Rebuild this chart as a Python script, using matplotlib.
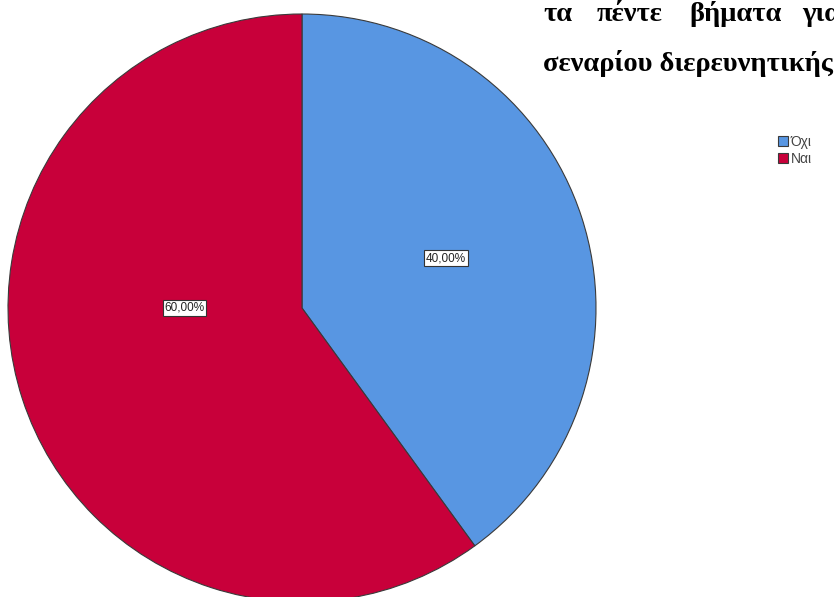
import matplotlib
matplotlib.use("Agg")
import matplotlib.pyplot as plt

# data
labels = ['Όχι', 'Ναι']
values = [40.0, 60.0]
colors = ['#5896E2', '#C8003A']
pct_text = ['40,00%', '60,00%']

W, H = 834, 597
fig = plt.figure(figsize=(W / 100, H / 100), dpi=100)

# pie axes placed in pixels: centre (302, 308), radius 294
cx, cy, r = 302, 308, 294
ax = fig.add_axes([(cx - r) / W, (H - cy - r) / H, 2 * r / W, 2 * r / H])
wedges, _ = ax.pie(values, colors=colors, startangle=90, counterclock=False,
                   radius=1, wedgeprops=dict(edgecolor='#3a3a3a', linewidth=0.8))
ax.set_xlim(-1, 1)
ax.set_ylim(-1, 1)
ax.set_aspect('equal')
ax.axis('off')

# percentage labels (SPSS style boxes)
label_pos = [(0.49, 0.17), (-0.40, 0.0)]
for (x, y), t in zip(label_pos, pct_text):
    ax.text(x, y, t, ha='center', va='center', fontsize=8.5, color='#222222',
            family='Liberation Sans',
            bbox=dict(boxstyle='square,pad=0.15', facecolor='white',
                      edgecolor='#333333', linewidth=0.8))

# legend
leg = fig.legend(wedges, labels, loc='upper left', bbox_to_anchor=(771 / W, 1 - 128 / H),
                 frameon=False, handlelength=0.75, handleheight=0.75,
                 handletextpad=0.15, labelspacing=0.2, borderpad=0,
                 prop=dict(family='Liberation Sans', size=10))
for t in leg.get_texts():
    t.set_color('#444444')

# cropped heading text from surrounding document (justified first line)
hfont = dict(fontsize=20.5, fontweight='bold', family='Liberation Serif', va='baseline')
fig.text(543 / W, 1 - 21 / H, 'τα', ha='left', **hfont)
fig.text(597 / W, 1 - 21 / H, 'πέντε', ha='left', **hfont)
fig.text(782 / W, 1 - 21 / H, 'βήματα', ha='right', **hfont)
fig.text(802 / W, 1 - 21 / H, 'για', ha='left', **hfont)
fig.text(543 / W, 1 - 71 / H, 'σεναρίου διερευνητικής', ha='left', **hfont)

fig.savefig('out.png', dpi=100)
